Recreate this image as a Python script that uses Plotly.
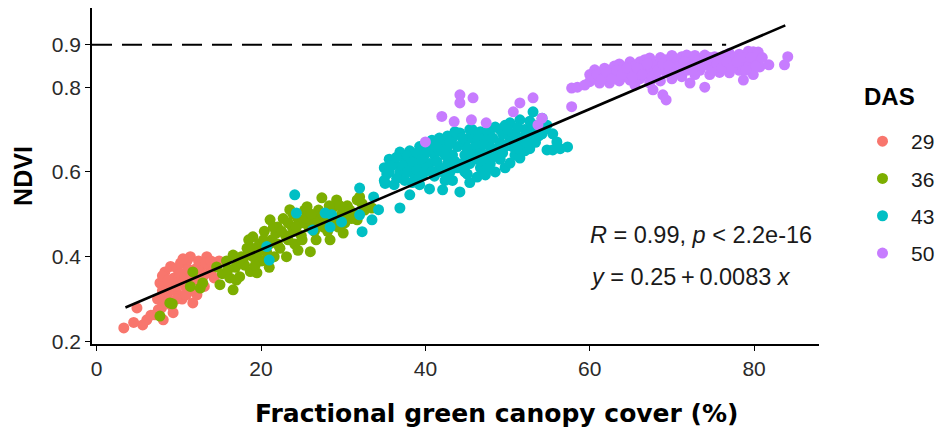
import plotly.graph_objects as go

# ---------------- data ----------------
das_levels = ["29", "36", "43", "50"]
das_colors = ["#F8766D", "#7CAE00", "#00BFC4", "#C77CFF"]
legend_title = "DAS"

pts_29 = [
    (3.3, 0.232), (4.5, 0.245), (4.9, 0.279), (5.6, 0.239), (6.1, 0.251), (6.6, 0.262),
    (7.1, 0.263), (7.4, 0.300), (7.7, 0.338), (7.9, 0.280), (8.1, 0.251), (8.3, 0.364),
    (8.6, 0.310), (8.8, 0.330), (9.0, 0.377), (9.1, 0.285), (9.4, 0.350), (9.6, 0.320),
    (9.8, 0.372), (10.0, 0.340), (10.2, 0.385), (10.4, 0.300), (10.6, 0.360), (10.8, 0.330),
    (11.0, 0.390), (11.2, 0.350), (11.4, 0.400), (11.7, 0.291), (11.9, 0.370), (12.1, 0.345),
    (12.4, 0.390), (12.6, 0.360), (12.9, 0.380), (13.1, 0.330), (13.4, 0.400), (13.7, 0.362),
    (14.0, 0.370), (14.3, 0.350), (14.9, 0.390), (10.5, 0.395), (9.3, 0.268), (8.4, 0.300),
    (12.2, 0.310), (11.4, 0.320), (7.5, 0.275), (10.0, 0.310), (13.0, 0.355), (8.0, 0.355),
    (8.7, 0.345), (9.5, 0.330), (10.1, 0.360), (10.7, 0.350), (11.1, 0.370), (11.6, 0.355),
    (12.3, 0.375), (12.8, 0.340), (13.3, 0.385), (13.9, 0.390), (9.7, 0.300), (10.9, 0.310),
    (8.0, 0.320),
]

pts_36 = [
    (7.7, 0.260), (9.2, 0.289), (8.9, 0.291), (11.4, 0.330), (11.7, 0.364), (12.6, 0.326),
    (12.9, 0.338), (14.6, 0.376), (15.0, 0.334), (15.3, 0.360), (15.8, 0.390), (16.2, 0.350),
    (16.6, 0.322), (16.6, 0.404), (16.9, 0.375), (17.4, 0.353), (17.6, 0.400), (18.0, 0.380),
    (18.3, 0.420), (18.7, 0.365), (19.0, 0.447), (19.0, 0.400), (19.5, 0.362), (19.8, 0.430),
    (20.1, 0.390), (20.4, 0.460), (20.7, 0.410), (21.1, 0.487), (21.3, 0.440), (21.6, 0.400),
    (22.0, 0.470), (22.3, 0.420), (22.7, 0.490), (23.0, 0.450), (23.1, 0.400), (23.5, 0.511),
    (23.8, 0.470), (24.1, 0.430), (24.5, 0.490), (24.9, 0.450), (25.3, 0.510), (25.6, 0.518),
    (25.8, 0.470), (26.0, 0.412), (26.3, 0.490), (26.7, 0.440), (27.0, 0.510), (27.4, 0.539),
    (27.6, 0.470), (28.0, 0.490), (28.4, 0.440), (28.7, 0.515), (29.2, 0.534), (29.4, 0.470),
    (29.8, 0.500), (30.0, 0.456), (30.5, 0.520), (31.0, 0.490), (31.7, 0.534), (31.7, 0.487),
    (32.0, 0.541), (32.6, 0.510), (33.5, 0.515), (22.0, 0.430), (24.0, 0.460), (26.5, 0.460),
    (18.5, 0.440), (20.0, 0.420), (21.8, 0.455), (23.3, 0.480), (25.0, 0.480), (27.2, 0.490),
    (28.8, 0.480), (30.3, 0.495), (17.0, 0.345), (19.3, 0.380), (21.0, 0.375), (24.5, 0.415),
    (16.0, 0.370), (17.3, 0.390), (18.0, 0.400), (18.9, 0.420), (19.6, 0.410), (20.3, 0.440),
    (21.0, 0.430), (21.5, 0.470), (22.5, 0.460), (23.3, 0.440), (23.9, 0.500), (24.3, 0.470),
    (25.0, 0.440), (25.5, 0.490), (26.1, 0.500), (26.9, 0.480), (27.5, 0.500), (28.1, 0.460),
    (28.3, 0.520), (29.0, 0.490), (29.6, 0.520), (30.2, 0.480), (30.8, 0.510), (31.3, 0.500),
    (32.3, 0.525),
]

pts_43 = [
    (20.7, 0.424), (21.0, 0.392), (24.1, 0.546), (24.3, 0.503), (26.3, 0.463), (27.8, 0.503),
    (28.4, 0.470), (28.6, 0.499), (29.8, 0.482), (32.0, 0.499), (32.3, 0.459), (33.5, 0.487),
    (34.3, 0.511), (33.7, 0.541), (32.0, 0.562), (35.1, 0.573),
    (35.0, 0.610), (35.0, 0.580), (35.6, 0.600), (35.6, 0.630), (36.2, 0.570), (36.2, 0.620),
    (36.9, 0.647), (36.9, 0.515), (36.9, 0.600), (37.5, 0.580), (37.5, 0.630), (38.1, 0.546),
    (38.1, 0.610), (38.1, 0.650), (38.7, 0.590), (38.7, 0.630), (39.3, 0.570), (39.3, 0.620),
    (39.3, 0.660), (39.9, 0.600), (39.9, 0.640), (39.9, 0.664), (40.5, 0.560), (40.5, 0.620),
    (40.5, 0.660), (41.1, 0.590), (41.1, 0.640), (41.1, 0.670), (41.7, 0.610), (41.7, 0.650),
    (41.7, 0.680), (42.1, 0.558), (42.1, 0.600), (42.1, 0.670), (42.7, 0.620), (42.7, 0.660),
    (42.7, 0.685), (43.3, 0.580), (43.3, 0.640), (43.3, 0.680), (43.9, 0.610), (43.9, 0.660),
    (43.9, 0.690), (44.2, 0.553), (44.2, 0.692), (44.8, 0.600), (44.8, 0.640), (44.8, 0.670),
    (45.4, 0.575), (45.4, 0.620), (45.4, 0.680), (45.4, 0.700), (46.0, 0.630), (46.0, 0.660),
    (46.0, 0.690), (46.3, 0.588), (46.7, 0.610), (46.7, 0.650), (46.7, 0.695), (47.3, 0.593),
    (47.3, 0.640), (47.3, 0.680), (47.9, 0.620), (47.9, 0.660), (47.9, 0.700), (48.5, 0.600),
    (48.5, 0.650), (48.5, 0.706), (49.1, 0.630), (49.1, 0.670), (49.1, 0.700), (49.7, 0.610),
    (49.7, 0.660), (49.7, 0.710), (50.3, 0.621), (50.3, 0.680), (50.3, 0.716), (50.9, 0.640),
    (50.9, 0.690), (51.5, 0.633), (51.5, 0.670), (51.5, 0.723), (52.1, 0.650), (52.1, 0.700),
    (52.7, 0.655), (52.7, 0.690), (52.7, 0.720), (53.1, 0.742), (53.4, 0.670), (53.4, 0.710),
    (54.2, 0.690), (54.2, 0.727), (54.8, 0.652), (54.8, 0.710), (55.5, 0.652), (55.5, 0.690),
    (56.0, 0.671), (56.4, 0.655), (57.3, 0.659),
    (35.3, 0.595), (35.9, 0.615), (36.5, 0.585), (36.5, 0.635), (37.2, 0.615), (37.8, 0.600),
    (37.8, 0.640), (38.4, 0.575), (38.4, 0.625), (39.0, 0.605), (39.0, 0.645), (39.6, 0.590),
    (39.6, 0.630), (40.2, 0.610), (40.2, 0.650), (40.8, 0.600), (40.8, 0.675), (41.4, 0.625),
    (41.4, 0.660), (42.4, 0.640), (42.4, 0.580), (43.0, 0.600), (43.0, 0.670), (43.6, 0.625),
    (43.6, 0.695), (44.5, 0.620), (44.5, 0.680), (45.1, 0.655), (45.1, 0.595), (45.7, 0.640),
    (45.7, 0.700), (46.4, 0.675), (47.0, 0.625), (47.0, 0.665), (47.6, 0.610), (47.6, 0.695),
    (48.2, 0.635), (48.2, 0.680), (48.8, 0.655), (49.4, 0.645), (49.4, 0.690), (50.0, 0.665),
    (50.0, 0.700), (50.6, 0.660), (51.2, 0.655), (51.2, 0.705), (51.8, 0.680), (52.4, 0.670),
    (53.0, 0.700), (53.8, 0.685), (54.5, 0.700),
]

pts_50 = [
    (40.0, 0.671), (42.0, 0.731), (43.5, 0.719), (44.2, 0.782), (44.2, 0.763), (45.8, 0.775),
    (45.6, 0.723), (47.4, 0.716), (50.7, 0.742), (51.5, 0.763), (53.1, 0.775), (54.2, 0.727),
    (53.7, 0.711), (57.8, 0.798), (57.8, 0.754),
    (58.5, 0.800), (60.0, 0.813), (60.0, 0.830), (60.6, 0.841), (60.6, 0.820), (61.2, 0.834),
    (61.2, 0.810), (61.8, 0.825), (61.8, 0.845), (62.4, 0.825), (62.4, 0.840), (62.4, 0.810),
    (63.0, 0.830), (63.0, 0.850), (63.6, 0.815), (63.6, 0.840), (63.6, 0.855), (64.1, 0.848),
    (64.1, 0.825), (64.9, 0.817), (64.9, 0.840), (64.9, 0.860), (65.5, 0.830), (65.5, 0.850),
    (65.5, 0.805), (66.1, 0.840), (66.1, 0.860), (66.1, 0.820), (66.7, 0.850), (66.7, 0.830),
    (66.7, 0.865), (67.3, 0.869), (67.3, 0.840), (67.3, 0.810), (67.7, 0.794), (68.0, 0.855),
    (68.0, 0.830), (68.6, 0.870), (68.6, 0.845), (68.6, 0.815), (68.9, 0.782), (69.3, 0.865),
    (69.3, 0.835), (69.3, 0.770), (70.0, 0.855), (70.0, 0.820), (70.0, 0.875), (70.6, 0.840),
    (70.6, 0.860), (71.2, 0.872), (71.2, 0.850), (71.2, 0.825), (71.8, 0.876), (71.8, 0.840),
    (72.2, 0.810), (72.2, 0.860), (72.8, 0.875), (72.8, 0.850), (72.8, 0.830), (73.4, 0.865),
    (73.4, 0.840), (74.0, 0.876), (74.0, 0.800), (74.0, 0.855), (74.6, 0.870), (74.6, 0.830),
    (74.6, 0.850), (75.2, 0.872), (75.2, 0.845), (75.8, 0.860), (75.8, 0.835), (76.4, 0.875),
    (76.4, 0.850), (77.0, 0.834), (77.0, 0.865), (77.0, 0.880), (77.6, 0.855), (77.6, 0.870),
    (78.2, 0.840), (78.2, 0.878), (78.7, 0.817), (78.7, 0.860), (79.3, 0.885), (79.3, 0.850),
    (79.9, 0.884), (79.9, 0.865), (79.9, 0.830), (80.5, 0.883), (80.5, 0.860), (80.7, 0.848),
    (81.8, 0.853), (83.7, 0.853), (84.1, 0.872),
    (59.4, 0.805), (60.3, 0.825), (60.9, 0.830), (61.5, 0.820), (62.1, 0.835), (62.7, 0.820),
    (63.3, 0.840), (63.9, 0.830), (64.5, 0.845), (65.2, 0.825), (65.8, 0.845), (66.4, 0.830),
    (67.0, 0.855), (67.6, 0.825), (68.3, 0.840), (68.9, 0.855), (69.6, 0.850), (70.3, 0.835),
    (70.9, 0.850), (71.5, 0.860), (72.5, 0.840), (73.1, 0.860), (73.7, 0.850), (74.3, 0.865),
    (74.9, 0.840), (75.5, 0.855), (76.1, 0.845), (76.7, 0.860), (77.3, 0.845), (77.9, 0.860),
    (78.5, 0.870), (79.0, 0.840), (79.6, 0.870), (80.2, 0.850), (81.0, 0.870),
]

# fitted regression line (endpoints) and its statistics text
fit_x = [3.5, 83.8]
fit_y = [0.280, 0.946]
stat_line1 = "<i>R</i> = 0.99, <i>p</i> &lt; 2.2e-16"
stat_line2 = "<i>y</i> = 0.25\u2009+\u20090.0083 <i>x</i>"

threshold_y = 0.9
threshold_end_x = 76.6

x_ticks = [0, 20, 40, 60, 80]
y_ticks = [0.2, 0.4, 0.6, 0.8, 0.9]
y_tick_labels = ["0.2", "0.4", "0.6", "0.8", "0.9"]

x_range = [-0.57, 87.9]
y_range = [0.194, 0.987]

# ---------------- figure ----------------
fig = go.Figure()
groups = [pts_29, pts_36, pts_43, pts_50]
for name, color, pts in zip(das_levels, das_colors, groups):
    fig.add_trace(go.Scatter(
        x=[p[0] for p in pts], y=[p[1] for p in pts],
        mode="markers", name=name, legendgroup=name,
        marker=dict(color=color, size=11, line=dict(width=0)),
    ))

fig.add_trace(go.Scatter(
    x=fit_x, y=fit_y, mode="lines", showlegend=False,
    line=dict(color="black", width=2.6),
))

fig.add_shape(type="line", xref="x", yref="y",
              x0=x_range[0], x1=threshold_end_x, y0=threshold_y, y1=threshold_y,
              line=dict(color="black", width=2, dash="20px,10px"))

tick_font = dict(family="Liberation Sans, Arial, sans-serif", size=21, color="#2a2a2a")

fig.update_xaxes(
    range=x_range, tickvals=x_ticks, showgrid=False, zeroline=False, automargin=False,
    showline=True, linecolor="black", linewidth=1.6,
    ticks="outside", ticklen=5, tickwidth=1.4, tickcolor="black",
    tickfont=tick_font,
)
fig.update_yaxes(
    range=y_range, tickvals=y_ticks, ticktext=y_tick_labels, automargin=False,
    showgrid=False, zeroline=False,
    showline=True, linecolor="black", linewidth=1.6,
    ticks="outside", ticklen=5, tickwidth=1.4, tickcolor="black",
    tickfont=tick_font,
    title=dict(text="<b>NDVI</b>", standoff=12,
               font=dict(family="Liberation Sans, Arial, sans-serif", size=25, color="black")),
)

stat_font = dict(family="Liberation Sans, Arial, sans-serif", size=23.5, color="#1a1a1a")
fig.add_annotation(x=59.8, y=0.451, xref="x", yref="y", text=stat_line1,
                   showarrow=False, xanchor="left", yanchor="middle", font=stat_font)
fig.add_annotation(x=59.8, y=0.353, xref="x", yref="y", text=stat_line2,
                   showarrow=False, xanchor="left", yanchor="middle", font=stat_font)

fig.add_annotation(x=(497 - 92) / 727, y=-(413 - 344) / 336, xref="paper", yref="paper",
                   text="<b>Fractional green canopy cover (%)</b>",
                   showarrow=False, xanchor="center", yanchor="middle",
                   font=dict(family="DejaVu Sans, sans-serif", size=25, color="black"))

# legend title placed as text above the legend entries
fig.add_annotation(x=(862 - 92) / 727, y=(344 - 97) / 336, xref="paper", yref="paper",
                   text="<b>" + legend_title + "</b>", showarrow=False,
                   xanchor="left", yanchor="middle",
                   font=dict(family="Liberation Sans, Arial, sans-serif", size=24, color="black"))

fig.update_layout(
    width=938, height=437, autosize=False,
    margin=dict(l=92, r=119, t=8, b=93, autoexpand=False),
    paper_bgcolor="white", plot_bgcolor="white",
    legend=dict(
        x=(854 - 92) / 727, y=(344 - 121) / 336, xanchor="left", yanchor="top",
        font=dict(family="Liberation Sans, Arial, sans-serif", size=21, color="#1a1a1a"),
        tracegroupgap=7, itemwidth=47,
        bgcolor="rgba(0,0,0,0)",
    ),
)

fig.write_html("out.html",
               config={"responsive": False, "displayModeBar": False},
               post_script="document.body.style.margin='0';")
